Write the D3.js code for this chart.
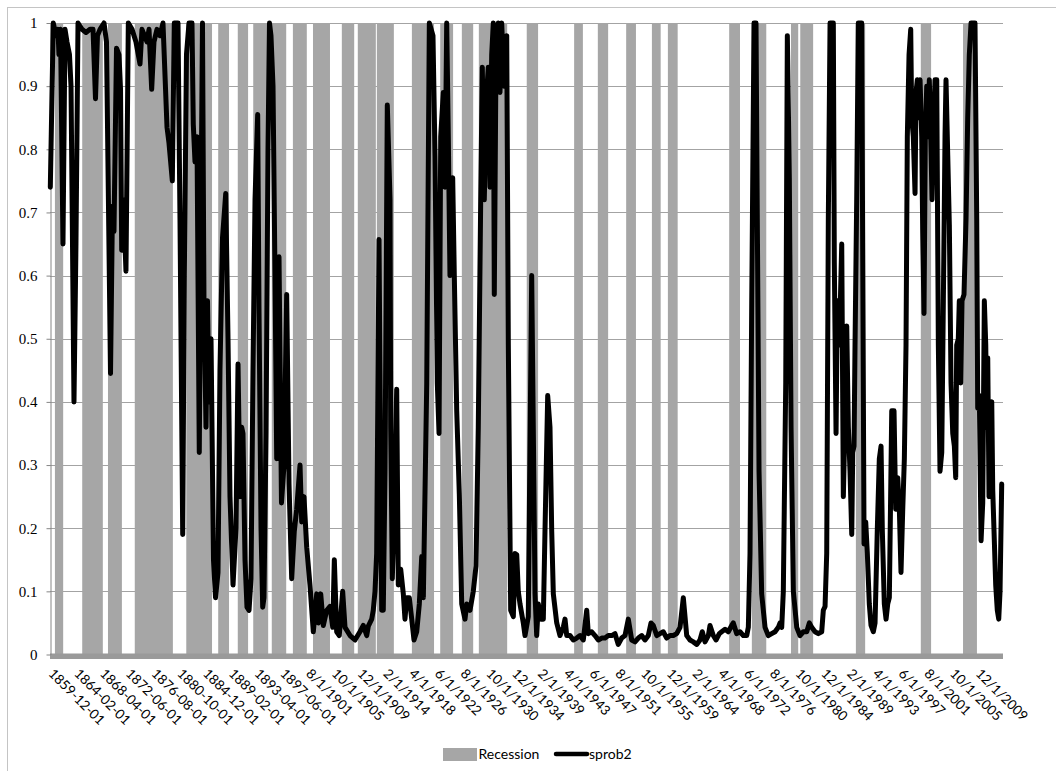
<!DOCTYPE html>
<html>
<head>
<meta charset="utf-8">
<script src="https://cdn.jsdelivr.net/npm/d3@7"></script>
<style>
  body { margin: 0; background: #fff; }
  svg { display: block; }
</style>
</head>
<body>
<svg id="chart" width="1056" height="771"></svg>
<script>
// ---------------- data ----------------
const yTicks = [0, 0.1, 0.2, 0.3, 0.4, 0.5, 0.6, 0.7, 0.8, 0.9, 1];

const xTickLabels = [
  "1859-12-01","1864-02-01","1868-04-01","1872-06-01","1876-08-01","1880-10-01",
  "1884-12-01","1889-02-01","1893-04-01","1897-06-01","8/1/1901","10/1/1905",
  "12/1/1909","2/1/1914","4/1/1918","6/1/1922","8/1/1926","10/1/1930","12/1/1934",
  "2/1/1939","4/1/1943","6/1/1947","8/1/1951","10/1/1955","12/1/1959","2/1/1964",
  "4/1/1968","6/1/1972","8/1/1976","10/1/1980","12/1/1984","2/1/1989","4/1/1993",
  "6/1/1997","8/1/2001","10/1/2005","12/1/2009"
];

// Recession shading (start / end month, as drawn)
const recessionStart = [
  "1860-09","1865-02","1869-04","1873-08","1881-12","1887-02","1890-04","1892-10",
  "1895-10","1899-03","1902-06","1907-02","1909-09","1912-10","1918-06","1923-01",
  "1926-07","1929-04","1937-01","1944-09","1948-07","1953-02","1957-04","1959-11",
  "1969-10","1973-06","1979-10","1981-04","1990-04","2000-10","2007-08"
];
const recessionEnd = [
  "1862-01","1868-06","1871-07","1879-10","1886-02","1888-11","1891-12","1895-03",
  "1898-02","1901-06","1905-03","1909-02","1912-08","1915-07","1922-01","1925-02",
  "1928-05","1933-11","1938-11","1946-02","1950-03","1954-09","1958-09","1961-06",
  "1971-07","1975-10","1980-12","1983-05","1991-10","2002-06","2009-11"
];

// sprob2 : [decimal year, probability]
const sprob2 = [
[1859.92,0.74],[1860.40,1.0],[1860.84,0.98],[1861.16,0.99],[1861.32,0.95],[1861.57,0.99],[1861.97,0.65],
[1862.30,0.99],[1862.62,0.97],[1863.02,0.95],[1863.27,0.90],[1863.75,0.40],[1864.07,0.65],[1864.40,1.0],
[1865.05,0.99],[1865.69,0.985],[1866.34,0.99],[1866.83,0.99],[1867.23,0.88],[1867.55,0.98],[1867.96,0.99],
[1868.61,1.0],[1869.01,0.97],[1869.66,0.445],[1869.98,0.71],[1870.22,0.67],[1870.63,0.96],[1871.03,0.95],
[1871.28,0.895],[1871.47,0.64],[1871.73,0.72],[1872.16,0.607],[1872.54,1.0],[1873.14,0.99],[1873.78,0.97],
[1874.43,0.935],[1874.75,0.99],[1875.56,0.97],[1875.89,0.99],[1876.32,0.895],[1876.69,0.97],[1877.18,0.99],
[1877.67,0.98],[1878.15,1.0],[1878.80,0.835],[1879.12,0.81],[1879.66,0.75],[1879.98,1.0],[1880.58,1.0],
[1880.90,0.69],[1881.34,0.19],[1881.60,0.6],[1881.95,0.95],[1882.36,1.0],[1882.84,1.0],[1883.05,0.84],
[1883.33,0.78],[1883.65,0.82],[1884.02,0.32],[1884.30,0.7],[1884.54,1.0],[1884.78,0.56],[1885.11,0.36],
[1885.35,0.56],[1885.59,0.40],[1885.92,0.50],[1886.32,0.15],[1886.65,0.09],[1887.05,0.13],[1887.37,0.45],
[1887.78,0.66],[1888.30,0.73],[1888.67,0.50],[1888.99,0.25],[1889.48,0.11],[1889.96,0.2],[1890.29,0.46],
[1890.61,0.25],[1890.88,0.36],[1891.09,0.35],[1891.42,0.15],[1891.74,0.075],[1892.07,0.07],[1892.39,0.12],
[1892.71,0.45],[1893.04,0.72],[1893.47,0.855],[1893.68,0.55],[1894.01,0.2],[1894.28,0.075],[1894.49,0.09],
[1894.82,0.35],[1895.14,0.8],[1895.38,1.0],[1895.62,0.98],[1895.95,0.9],[1896.27,0.6],[1896.55,0.31],
[1896.92,0.63],[1897.32,0.24],[1897.73,0.3],[1898.16,0.57],[1898.54,0.27],[1898.97,0.12],[1899.39,0.195],
[1899.78,0.23],[1900.32,0.30],[1900.59,0.21],[1900.96,0.25],[1901.40,0.17],[1901.93,0.11],[1902.47,0.036],
[1903.02,0.096],[1903.28,0.05],[1903.67,0.096],[1904.09,0.046],[1904.64,0.07],[1905.17,0.076],[1905.61,0.043],
[1905.87,0.15],[1906.25,0.036],[1906.67,0.03],[1907.22,0.10],[1907.60,0.043],[1908.41,0.03],[1909.21,0.023],
[1910.02,0.036],[1910.56,0.046],[1911.11,0.03],[1911.37,0.045],[1911.92,0.056],[1912.17,0.07],[1912.45,0.10],
[1912.72,0.16],[1913.10,0.657],[1913.53,0.07],[1913.79,0.07],[1914.07,0.29],[1914.44,0.87],[1914.88,0.72],
[1914.99,0.36],[1915.25,0.12],[1915.57,0.23],[1915.96,0.42],[1916.22,0.11],[1916.61,0.135],[1917.03,0.096],
[1917.30,0.056],[1917.58,0.09],[1918.00,0.09],[1918.39,0.056],[1918.76,0.023],[1919.20,0.036],[1919.62,0.08],
[1920.01,0.155],[1920.27,0.09],[1920.82,0.43],[1921.24,1.0],[1921.83,0.98],[1922.16,0.79],[1922.53,0.43],
[1922.81,0.35],[1923.08,0.82],[1923.50,0.89],[1923.78,0.74],[1924.05,1.0],[1924.31,0.82],[1924.58,0.6],
[1925.02,0.755],[1925.28,0.6],[1925.67,0.386],[1926.09,0.254],[1926.48,0.08],[1927.01,0.056],[1927.29,0.08],
[1927.82,0.07],[1928.35,0.1],[1928.79,0.14],[1929.16,0.36],[1929.55,0.72],[1929.81,0.93],[1930.13,0.72],
[1930.52,0.89],[1930.78,0.93],[1931.06,0.74],[1931.33,0.95],[1931.59,1.0],[1931.75,0.57],[1932.03,0.95],
[1932.40,1.0],[1932.67,0.89],[1932.95,1.0],[1933.32,0.90],[1933.76,0.98],[1934.02,0.49],[1934.40,0.07],
[1934.83,0.06],[1935.10,0.16],[1935.38,0.158],[1935.63,0.1],[1935.91,0.08],[1936.44,0.05],[1936.72,0.03],
[1937.25,0.06],[1937.80,0.60],[1938.34,0.096],[1938.61,0.03],[1938.87,0.08],[1939.26,0.056],[1939.68,0.056],
[1939.95,0.195],[1940.39,0.41],[1940.76,0.36],[1941.04,0.195],[1941.30,0.096],[1941.85,0.05],[1942.38,0.03],
[1942.91,0.043],[1943.19,0.056],[1943.47,0.03],[1944.00,0.03],[1944.53,0.023],[1945.08,0.026],[1945.62,0.03],
[1946.15,0.023],[1946.70,0.07],[1946.96,0.033],[1947.51,0.036],[1948.04,0.03],[1948.58,0.023],[1949.13,0.026],
[1949.66,0.026],[1950.20,0.03],[1950.75,0.03],[1951.28,0.033],[1951.81,0.016],[1952.36,0.026],[1952.90,0.03],
[1953.43,0.056],[1953.98,0.023],[1954.52,0.02],[1955.05,0.026],[1955.60,0.03],[1956.13,0.023],[1956.67,0.03],
[1957.10,0.05],[1957.48,0.046],[1958.03,0.03],[1958.56,0.033],[1959.09,0.036],[1959.64,0.026],[1960.18,0.03],
[1960.71,0.03],[1961.26,0.033],[1961.80,0.043],[1962.33,0.09],[1962.88,0.03],[1963.41,0.023],[1963.95,0.02],
[1964.50,0.016],[1965.03,0.023],[1965.40,0.036],[1965.84,0.02],[1966.38,0.03],[1966.65,0.046],[1967.18,0.03],
[1967.62,0.023],[1968.16,0.033],[1968.54,0.036],[1969.08,0.04],[1969.61,0.036],[1970.16,0.046],[1970.42,0.05],
[1970.97,0.033],[1971.50,0.036],[1972.04,0.03],[1972.59,0.03],[1972.85,0.043],[1973.12,0.16],[1973.40,0.56],
[1973.77,1.0],[1974.09,1.0],[1974.30,0.69],[1974.58,0.29],[1975.01,0.096],[1975.55,0.043],[1976.08,0.03],
[1976.63,0.033],[1977.17,0.036],[1977.70,0.043],[1977.98,0.05],[1978.25,0.043],[1978.51,0.1],[1978.90,0.43],
[1979.16,0.98],[1979.48,0.755],[1979.76,0.36],[1980.13,0.1],[1980.68,0.043],[1981.21,0.03],[1981.75,0.036],
[1982.30,0.036],[1982.72,0.05],[1983.10,0.043],[1983.64,0.036],[1984.17,0.033],[1984.72,0.036],[1984.98,0.07],
[1985.26,0.076],[1985.53,0.16],[1985.79,0.69],[1986.07,1.0],[1986.60,1.0],[1986.76,0.62],[1987.04,0.35],
[1987.25,0.56],[1987.57,0.49],[1987.96,0.65],[1988.22,0.25],[1988.49,0.37],[1988.77,0.52],[1989.03,0.36],
[1989.30,0.29],[1989.58,0.19],[1989.74,0.32],[1989.95,0.33],[1990.11,0.49],[1990.38,0.72],[1990.64,1.0],
[1991.19,1.0],[1991.36,0.62],[1991.57,0.175],[1991.84,0.21],[1992.10,0.16],[1992.42,0.08],[1992.70,0.046],
[1993.07,0.036],[1993.35,0.05],[1993.72,0.2],[1994.04,0.31],[1994.32,0.33],[1994.53,0.195],[1994.85,0.08],
[1995.13,0.056],[1995.40,0.08],[1995.66,0.09],[1996.05,0.386],[1996.42,0.386],[1996.69,0.23],[1997.02,0.28],
[1997.28,0.23],[1997.55,0.13],[1997.83,0.23],[1998.09,0.31],[1998.36,0.49],[1998.57,0.82],[1998.85,0.95],
[1999.12,0.99],[1999.28,0.85],[1999.54,0.82],[1999.82,0.73],[1999.98,0.89],[2000.19,0.91],[2000.35,0.85],
[2000.63,0.91],[2000.90,0.82],[2001.06,0.67],[2001.27,0.54],[2001.48,0.82],[2001.71,0.90],[2001.97,0.82],
[2002.13,0.91],[2002.36,0.82],[2002.57,0.72],[2002.78,0.82],[2003.05,0.91],[2003.33,0.91],[2003.59,0.49],
[2003.86,0.29],[2004.14,0.32],[2004.40,0.56],[2004.67,0.82],[2004.83,0.91],[2005.11,0.79],[2005.37,0.68],
[2005.64,0.43],[2005.92,0.35],[2006.18,0.33],[2006.40,0.28],[2006.56,0.49],[2006.82,0.50],[2006.98,0.56],
[2007.21,0.43],[2007.42,0.56],[2007.74,0.57],[2008.07,0.69],[2008.34,0.85],[2008.60,0.95],[2008.88,1.0],
[2009.52,1.0],[2009.80,0.69],[2009.96,0.39],[2010.22,0.41],[2010.50,0.18],[2010.77,0.24],[2011.03,0.56],
[2011.26,0.49],[2011.42,0.36],[2011.58,0.47],[2011.79,0.25],[2011.95,0.39],[2012.23,0.40],[2012.39,0.26],
[2012.60,0.195],[2012.87,0.11],[2013.13,0.07],[2013.36,0.056],[2013.57,0.10],[2013.84,0.27]
];

const legendItems = ["Recession", "sprob2"];

// ---------------- helpers ----------------
function ymToYear(s) {            // "YYYY-MM" -> decimal year
  const [yy, mm] = s.split("-").map(Number);
  return yy + (mm - 1) / 12;
}
function labelToYear(s) {         // tick label -> decimal year
  let m = s.match(/^(\d{4})-(\d{2})-(\d{2})$/);
  if (m) return +m[1] + (+m[2] - 1) / 12;
  m = s.match(/^(\d+)\/(\d+)\/(\d{4})$/);
  return +m[3] + (+m[1] - 1) / 12;
}

// ---------------- layout ----------------
const plot = { left: 50, right: 1003, top: 23, bottom: 654.5 };
const svg = d3.select("#chart");

const x = d3.scaleLinear().domain([1859.87, 2014.05]).range([plot.left, plot.right]);
const y = d3.scaleLinear().domain([0, 1]).range([plot.bottom, plot.top]);

// chart border
svg.append("rect")
  .attr("x", 7.5).attr("y", 7.5).attr("width", 1100).attr("height", 800)
  .attr("fill", "none").attr("stroke", "#c4c4c4").attr("stroke-width", 1);

// gridlines
svg.append("g").selectAll("line")
  .data(yTicks.filter(d => d > 0))
  .join("line")
  .attr("x1", plot.left).attr("x2", plot.right)
  .attr("y1", d => Math.round(y(d)) + 0.5).attr("y2", d => Math.round(y(d)) + 0.5)
  .attr("stroke", "#a3a3a3").attr("stroke-width", 1);

// recession bars
const recessions = recessionStart.map((s, i) => ({ s: ymToYear(s), e: ymToYear(recessionEnd[i]) }));
svg.append("g").selectAll("rect")
  .data(recessions)
  .join("rect")
  .attr("x", d => x(d.s))
  .attr("width", d => x(d.e) - x(d.s))
  .attr("y", y(1))
  .attr("height", y(0) - y(1))
  .attr("fill", "#a6a6a6");

// thick horizontal axis band
svg.append("rect")
  .attr("x", plot.left).attr("y", 653.5)
  .attr("width", plot.right - plot.left).attr("height", 5.5)
  .attr("fill", "#9a9a9a");

// x axis labels
const xTickVals = xTickLabels.map(labelToYear);
const xAxis = d3.axisBottom(x)
  .tickValues(xTickVals)
  .tickFormat((d, i) => xTickLabels[i])
  .tickSize(0);
const gx = svg.append("g").attr("transform", `translate(0,${plot.bottom})`).call(xAxis);
gx.select(".domain").remove();
gx.selectAll("text")
  .attr("x", 0).attr("y", 0).attr("dy", 0)
  .attr("text-anchor", "start")
  .attr("transform", "translate(-3,20) rotate(45)")
  .attr("font-family", "Lato, 'Open Sans', sans-serif")
  .attr("font-size", 13.5)
  .attr("fill", "#000");

// y axis
const yAxis = d3.axisLeft(y)
  .tickValues(yTicks)
  .tickFormat(d3.format("~g"))
  .tickSize(4)
  .tickSizeOuter(0)
  .tickPadding(9);
const gy = svg.append("g").attr("transform", `translate(${plot.left + 0.5},0)`).call(yAxis);
gy.select(".domain").attr("stroke", "#868686");
gy.selectAll(".tick line").attr("stroke", "#868686");
gy.selectAll("text")
  .attr("font-family", "'Liberation Serif', 'Times New Roman', serif")
  .attr("font-size", 15)
  .attr("fill", "#000");

// sprob2 line
const line = d3.line().x(d => x(d[0])).y(d => y(d[1]));
svg.append("path")
  .datum(sprob2)
  .attr("d", line)
  .attr("fill", "none")
  .attr("stroke", "#000")
  .attr("stroke-width", 5)
  .attr("stroke-linejoin", "round")
  .attr("stroke-linecap", "round");

// legend
const lg = svg.append("g").attr("font-family", "Lato, 'Open Sans', sans-serif").attr("font-size", 14);
lg.append("rect").attr("x", 443).attr("y", 748).attr("width", 34).attr("height", 13).attr("fill", "#a6a6a6");
lg.append("text").attr("x", 478.5).attr("y", 759).text(legendItems[0]);
lg.append("line").attr("x1", 556).attr("x2", 587).attr("y1", 754).attr("y2", 754)
  .attr("stroke", "#000").attr("stroke-width", 4.5).attr("stroke-linecap", "round");
lg.append("text").attr("x", 589).attr("y", 759).text(legendItems[1]);
</script>
</body>
</html>
